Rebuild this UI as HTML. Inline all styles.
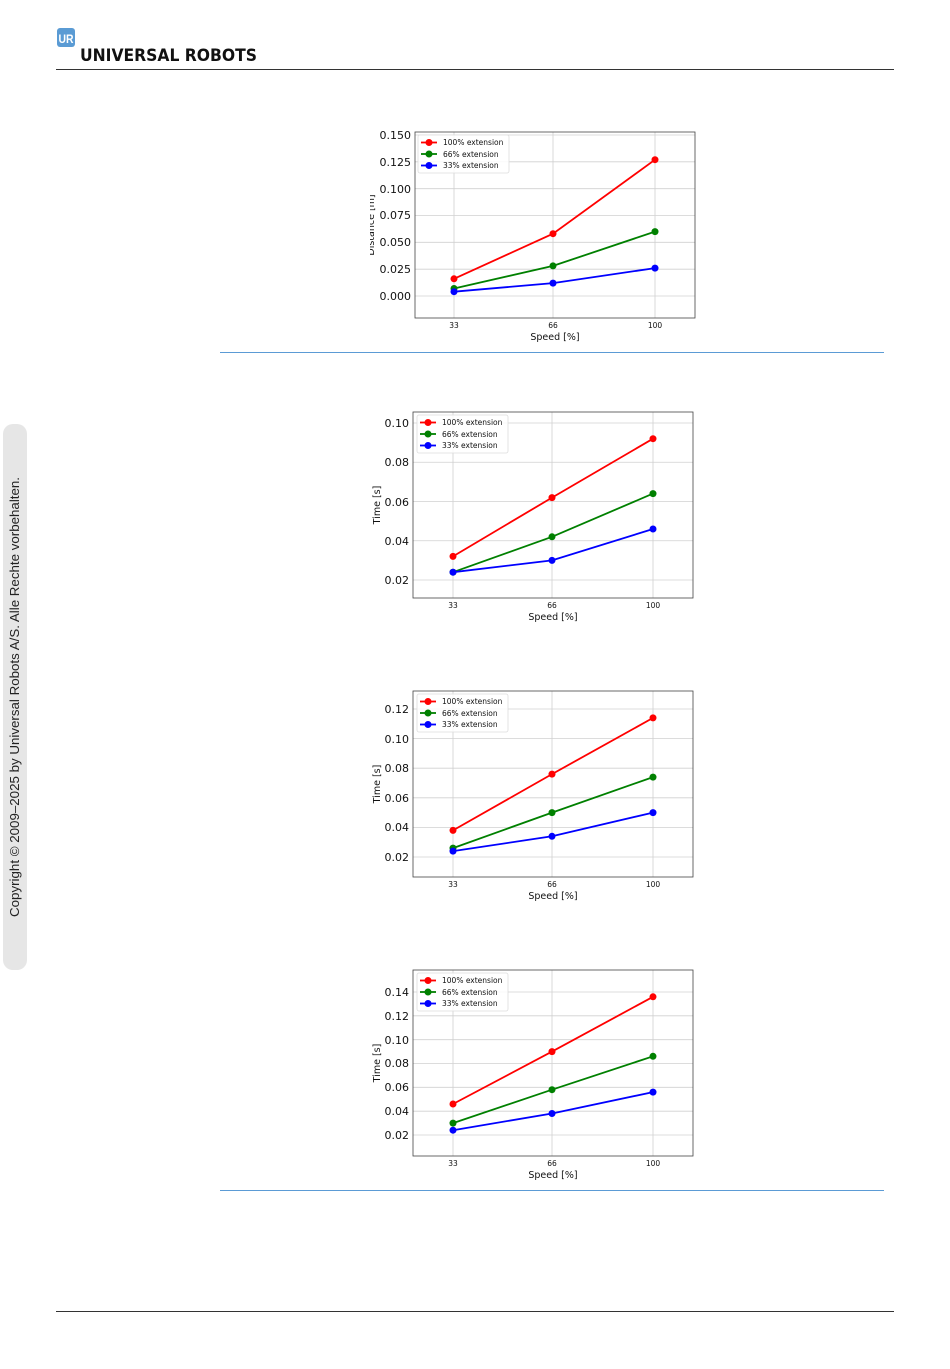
<!DOCTYPE html>
<html><head><meta charset="utf-8"><style>
html,body{margin:0;padding:0;background:#fff;width:950px;height:1369px;overflow:hidden}
svg{display:block;font-family:"DejaVu Sans","Liberation Sans",sans-serif}
.g{stroke:#d0d0d0;stroke-width:0.8}
.ax{fill:none;stroke:#444;stroke-width:0.8}
.yt{font-size:11px;text-anchor:end;fill:#111}
.xt{font-size:7.5px;text-anchor:middle;fill:#111}
.lab{font-size:9.5px;fill:#111;text-anchor:middle}
.lg{font-size:7.5px;fill:#111}
polyline{stroke-width:1.8}
circle{r:3.5}
</style></head><body>
<svg width="950" height="1369" viewBox="0 0 950 1369">
<!-- header -->
<rect x="57" y="28" width="18" height="19" rx="3" fill="#5a9bd4"/>
<text x="58.5" y="43" font-size="12" font-weight="bold" fill="#fff" font-family="Liberation Sans" textLength="15" lengthAdjust="spacingAndGlyphs">UR</text>
<text x="80" y="61" font-size="17" font-weight="bold" fill="#111" font-family="DejaVu Sans" textLength="177" lengthAdjust="spacingAndGlyphs">UNIVERSAL ROBOTS</text>
<line x1="56" y1="69.5" x2="894" y2="69.5" stroke="#333" stroke-width="1"/>
<line x1="56" y1="1311.5" x2="894" y2="1311.5" stroke="#333" stroke-width="1"/>
<!-- side -->
<rect x="3" y="424" width="24" height="546" rx="10" fill="#e6e6e6"/>
<text transform="translate(19,697) rotate(-90)" font-size="12.5" text-anchor="middle" fill="#222" font-family="Liberation Sans" textLength="440" lengthAdjust="spacingAndGlyphs">Copyright © 2009–2025 by Universal Robots A/S. Alle Rechte vorbehalten.</text>
<line x1="220" y1="352.5" x2="884" y2="352.5" stroke="#5b9bd5" stroke-width="1"/>
<line x1="220" y1="1190.5" x2="884" y2="1190.5" stroke="#5b9bd5" stroke-width="1"/>

<!-- chart 1 -->
<g>
<line class="g" x1="454" y1="132" x2="454" y2="318"/><line class="g" x1="553" y1="132" x2="553" y2="318"/><line class="g" x1="655" y1="132" x2="655" y2="318"/>
<line class="g" x1="415" y1="296" x2="695" y2="296"/><line class="g" x1="415" y1="269.2" x2="695" y2="269.2"/><line class="g" x1="415" y1="242.3" x2="695" y2="242.3"/><line class="g" x1="415" y1="215.5" x2="695" y2="215.5"/><line class="g" x1="415" y1="188.7" x2="695" y2="188.7"/><line class="g" x1="415" y1="161.8" x2="695" y2="161.8"/><line class="g" x1="415" y1="135" x2="695" y2="135"/>
<rect class="ax" x="415" y="132" width="280" height="186"/>
<text class="yt" x="411" y="300">0.000</text><text class="yt" x="411" y="273">0.025</text><text class="yt" x="411" y="246">0.050</text><text class="yt" x="411" y="219">0.075</text><text class="yt" x="411" y="193">0.100</text><text class="yt" x="411" y="166">0.125</text><text class="yt" x="411" y="139">0.150</text>
<text class="xt" x="454" y="328">33</text><text class="xt" x="553" y="328">66</text><text class="xt" x="655" y="328">100</text>
<text class="lab" x="555" y="340">Speed [%]</text>
<text class="lab" transform="translate(374,225) rotate(-90)">Distance [m]</text>
<rect x="360" y="190" width="10" height="70" fill="#fff"/>
<polyline points="454,278.8 553,233.7 655,159.7" fill="none" stroke="#f00"/>
<polyline points="454,288.5 553,265.9 655,231.6" fill="none" stroke="#008000"/>
<polyline points="454,291.7 553,283.1 655,268.1" fill="none" stroke="#00f"/>
<g fill="#f00"><circle cx="454" cy="278.8" r="3.5"/><circle cx="553" cy="233.7" r="3.5"/><circle cx="655" cy="159.7" r="3.5"/></g>
<g fill="#008000"><circle cx="454" cy="288.5" r="3.5"/><circle cx="553" cy="265.9" r="3.5"/><circle cx="655" cy="231.6" r="3.5"/></g>
<g fill="#00f"><circle cx="454" cy="291.7" r="3.5"/><circle cx="553" cy="283.1" r="3.5"/><circle cx="655" cy="268.1" r="3.5"/></g>
<rect x="418" y="135" width="91" height="38" rx="2" fill="#fff" fill-opacity="0.85" stroke="#ddd" stroke-width="0.8"/>
<line x1="421" y1="142.5" x2="437" y2="142.5" stroke="#f00" stroke-width="1.8"/><circle cx="429" cy="142.5" r="3.2" fill="#f00"/><text class="lg" x="443" y="145">100% extension</text>
<line x1="421" y1="154" x2="437" y2="154" stroke="#008000" stroke-width="1.8"/><circle cx="429" cy="154" r="3.2" fill="#008000"/><text class="lg" x="443" y="157">66% extension</text>
<line x1="421" y1="165.5" x2="437" y2="165.5" stroke="#00f" stroke-width="1.8"/><circle cx="429" cy="165.5" r="3.2" fill="#00f"/><text class="lg" x="443" y="168">33% extension</text>
</g>

<!-- chart 2 -->
<g>
<line class="g" x1="453" y1="412" x2="453" y2="598"/><line class="g" x1="552" y1="412" x2="552" y2="598"/><line class="g" x1="653" y1="412" x2="653" y2="598"/>
<line class="g" x1="413" y1="580" x2="693" y2="580"/><line class="g" x1="413" y1="540.75" x2="693" y2="540.75"/><line class="g" x1="413" y1="501.5" x2="693" y2="501.5"/><line class="g" x1="413" y1="462.25" x2="693" y2="462.25"/><line class="g" x1="413" y1="423" x2="693" y2="423"/>
<rect class="ax" x="413" y="412" width="280" height="186"/>
<text class="yt" x="409" y="584">0.02</text><text class="yt" x="409" y="545">0.04</text><text class="yt" x="409" y="506">0.06</text><text class="yt" x="409" y="466">0.08</text><text class="yt" x="409" y="427">0.10</text>
<text class="xt" x="453" y="608">33</text><text class="xt" x="552" y="608">66</text><text class="xt" x="653" y="608">100</text>
<text class="lab" x="553" y="620">Speed [%]</text>
<text class="lab" transform="translate(380,505) rotate(-90)">Time [s]</text>
<polyline points="453,556.4 552,497.6 653,438.7" fill="none" stroke="#f00"/>
<polyline points="453,572.2 552,536.8 653,493.6" fill="none" stroke="#008000"/>
<polyline points="453,572.2 552,560.4 653,529" fill="none" stroke="#00f"/>
<g fill="#f00"><circle cx="453" cy="556.4" r="3.5"/><circle cx="552" cy="497.6" r="3.5"/><circle cx="653" cy="438.7" r="3.5"/></g>
<g fill="#008000"><circle cx="453" cy="572.2" r="3.5"/><circle cx="552" cy="536.8" r="3.5"/><circle cx="653" cy="493.6" r="3.5"/></g>
<g fill="#00f"><circle cx="453" cy="572.2" r="3.5"/><circle cx="552" cy="560.4" r="3.5"/><circle cx="653" cy="529" r="3.5"/></g>
<rect x="417" y="415" width="91" height="38" rx="2" fill="#fff" fill-opacity="0.85" stroke="#ddd" stroke-width="0.8"/>
<line x1="420" y1="422.5" x2="436" y2="422.5" stroke="#f00" stroke-width="1.8"/><circle cx="428" cy="422.5" r="3.2" fill="#f00"/><text class="lg" x="442" y="425">100% extension</text>
<line x1="420" y1="434" x2="436" y2="434" stroke="#008000" stroke-width="1.8"/><circle cx="428" cy="434" r="3.2" fill="#008000"/><text class="lg" x="442" y="437">66% extension</text>
<line x1="420" y1="445.5" x2="436" y2="445.5" stroke="#00f" stroke-width="1.8"/><circle cx="428" cy="445.5" r="3.2" fill="#00f"/><text class="lg" x="442" y="448">33% extension</text>
</g>

<!-- chart 3 -->
<g>
<line class="g" x1="453" y1="691" x2="453" y2="877"/><line class="g" x1="552" y1="691" x2="552" y2="877"/><line class="g" x1="653" y1="691" x2="653" y2="877"/>
<line class="g" x1="413" y1="857" x2="693" y2="857"/><line class="g" x1="413" y1="827.4" x2="693" y2="827.4"/><line class="g" x1="413" y1="797.8" x2="693" y2="797.8"/><line class="g" x1="413" y1="768.2" x2="693" y2="768.2"/><line class="g" x1="413" y1="738.6" x2="693" y2="738.6"/><line class="g" x1="413" y1="709" x2="693" y2="709"/>
<rect class="ax" x="413" y="691" width="280" height="186"/>
<text class="yt" x="409" y="861">0.02</text><text class="yt" x="409" y="831">0.04</text><text class="yt" x="409" y="802">0.06</text><text class="yt" x="409" y="772">0.08</text><text class="yt" x="409" y="743">0.10</text><text class="yt" x="409" y="713">0.12</text>
<text class="xt" x="453" y="887">33</text><text class="xt" x="552" y="887">66</text><text class="xt" x="653" y="887">100</text>
<text class="lab" x="553" y="899">Speed [%]</text>
<text class="lab" transform="translate(380,784) rotate(-90)">Time [s]</text>
<polyline points="453,830.4 552,774.1 653,717.9" fill="none" stroke="#f00"/>
<polyline points="453,848.1 552,812.6 653,777.1" fill="none" stroke="#008000"/>
<polyline points="453,851.1 552,836.3 653,812.6" fill="none" stroke="#00f"/>
<g fill="#f00"><circle cx="453" cy="830.4" r="3.5"/><circle cx="552" cy="774.1" r="3.5"/><circle cx="653" cy="717.9" r="3.5"/></g>
<g fill="#008000"><circle cx="453" cy="848.1" r="3.5"/><circle cx="552" cy="812.6" r="3.5"/><circle cx="653" cy="777.1" r="3.5"/></g>
<g fill="#00f"><circle cx="453" cy="851.1" r="3.5"/><circle cx="552" cy="836.3" r="3.5"/><circle cx="653" cy="812.6" r="3.5"/></g>
<rect x="417" y="694" width="91" height="38" rx="2" fill="#fff" fill-opacity="0.85" stroke="#ddd" stroke-width="0.8"/>
<line x1="420" y1="701.5" x2="436" y2="701.5" stroke="#f00" stroke-width="1.8"/><circle cx="428" cy="701.5" r="3.2" fill="#f00"/><text class="lg" x="442" y="704">100% extension</text>
<line x1="420" y1="713" x2="436" y2="713" stroke="#008000" stroke-width="1.8"/><circle cx="428" cy="713" r="3.2" fill="#008000"/><text class="lg" x="442" y="716">66% extension</text>
<line x1="420" y1="724.5" x2="436" y2="724.5" stroke="#00f" stroke-width="1.8"/><circle cx="428" cy="724.5" r="3.2" fill="#00f"/><text class="lg" x="442" y="727">33% extension</text>
</g>

<!-- chart 4 -->
<g>
<line class="g" x1="453" y1="970" x2="453" y2="1156"/><line class="g" x1="552" y1="970" x2="552" y2="1156"/><line class="g" x1="653" y1="970" x2="653" y2="1156"/>
<line class="g" x1="413" y1="1135" x2="693" y2="1135"/><line class="g" x1="413" y1="1111.2" x2="693" y2="1111.2"/><line class="g" x1="413" y1="1087.3" x2="693" y2="1087.3"/><line class="g" x1="413" y1="1063.5" x2="693" y2="1063.5"/><line class="g" x1="413" y1="1039.7" x2="693" y2="1039.7"/><line class="g" x1="413" y1="1015.8" x2="693" y2="1015.8"/><line class="g" x1="413" y1="992" x2="693" y2="992"/>
<rect class="ax" x="413" y="970" width="280" height="186"/>
<text class="yt" x="409" y="1139">0.02</text><text class="yt" x="409" y="1115">0.04</text><text class="yt" x="409" y="1091">0.06</text><text class="yt" x="409" y="1067">0.08</text><text class="yt" x="409" y="1044">0.10</text><text class="yt" x="409" y="1020">0.12</text><text class="yt" x="409" y="996">0.14</text>
<text class="xt" x="453" y="1166">33</text><text class="xt" x="552" y="1166">66</text><text class="xt" x="653" y="1166">100</text>
<text class="lab" x="553" y="1178">Speed [%]</text>
<text class="lab" transform="translate(380,1063) rotate(-90)">Time [s]</text>
<polyline points="453,1104 552,1051.6 653,996.8" fill="none" stroke="#f00"/>
<polyline points="453,1123.1 552,1089.7 653,1056.3" fill="none" stroke="#008000"/>
<polyline points="453,1130.2 552,1113.5 653,1092.1" fill="none" stroke="#00f"/>
<g fill="#f00"><circle cx="453" cy="1104" r="3.5"/><circle cx="552" cy="1051.6" r="3.5"/><circle cx="653" cy="996.8" r="3.5"/></g>
<g fill="#008000"><circle cx="453" cy="1123.1" r="3.5"/><circle cx="552" cy="1089.7" r="3.5"/><circle cx="653" cy="1056.3" r="3.5"/></g>
<g fill="#00f"><circle cx="453" cy="1130.2" r="3.5"/><circle cx="552" cy="1113.5" r="3.5"/><circle cx="653" cy="1092.1" r="3.5"/></g>
<rect x="417" y="973" width="91" height="38" rx="2" fill="#fff" fill-opacity="0.85" stroke="#ddd" stroke-width="0.8"/>
<line x1="420" y1="980.5" x2="436" y2="980.5" stroke="#f00" stroke-width="1.8"/><circle cx="428" cy="980.5" r="3.2" fill="#f00"/><text class="lg" x="442" y="983">100% extension</text>
<line x1="420" y1="992" x2="436" y2="992" stroke="#008000" stroke-width="1.8"/><circle cx="428" cy="992" r="3.2" fill="#008000"/><text class="lg" x="442" y="995">66% extension</text>
<line x1="420" y1="1003.5" x2="436" y2="1003.5" stroke="#00f" stroke-width="1.8"/><circle cx="428" cy="1003.5" r="3.2" fill="#00f"/><text class="lg" x="442" y="1006">33% extension</text>
</g>
</svg>
</body></html>
